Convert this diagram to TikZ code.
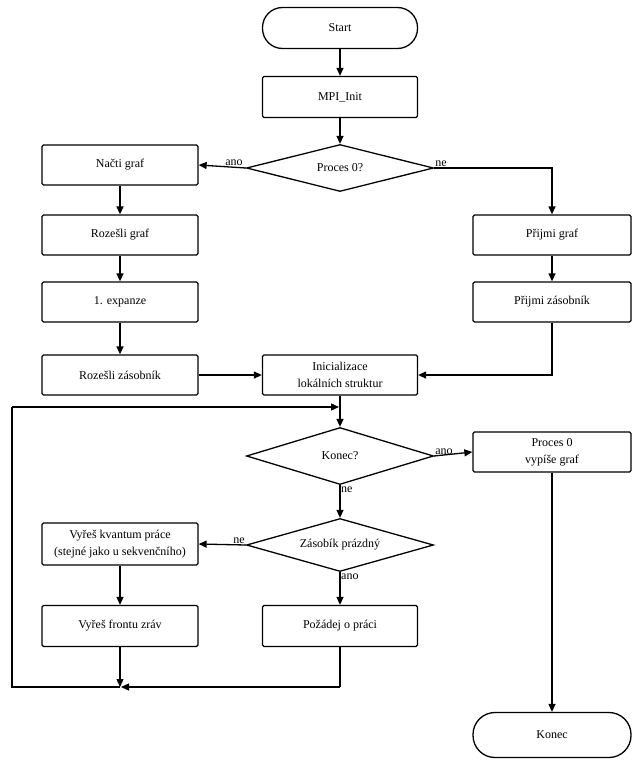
\documentclass[tikz,border=0pt]{standalone}
\usepackage{fontspec}
\setmainfont{Liberation Serif}
\usetikzlibrary{arrows.meta,shapes.geometric,positioning,calc}
\begin{document}
\begin{tikzpicture}[x=1pt,y=-1pt,
  every node/.style={font=\fontsize{12}{17}\selectfont},
  box/.style={draw,line width=1.3pt,rounded corners=1.5pt,align=center,inner sep=0pt},
  term/.style={draw,line width=1.3pt,rounded corners=20pt,align=center,inner sep=0pt},
  dia/.style={draw,line width=1.3pt,diamond,aspect=4,inner sep=0pt,align=center},
  conn/.style={line width=1.3pt,-{Triangle[length=8pt,width=7pt]}},
  line/.style={line width=1.3pt},
  lbl/.style={font=\fontsize{12}{14}\selectfont,inner sep=1pt}]
\useasboundingbox (0,0) rectangle (639,765);
% nodes
\node[term,minimum width=155pt,minimum height=41pt] (start) at (340,28) {Start};
\node[box,minimum width=155pt,minimum height=41pt] (init) at (340,97) {MPI\_Init};
\node[dia,minimum width=187pt,minimum height=47pt] (p0) at (340,168) {Proces 0?};
\node[box,minimum width=156pt,minimum height=40pt] (nacti) at (120,165) {Načti graf};
\node[box,minimum width=156pt,minimum height=40pt] (rg) at (120,235) {Rozešli graf};
\node[box,minimum width=156pt,minimum height=40pt] (exp) at (120,302) {1. expanze};
\node[box,minimum width=156pt,minimum height=40pt] (rz) at (120,375) {Rozešli zásobník};
\node[box,minimum width=158pt,minimum height=40pt] (pg) at (552,235) {Přijmi graf};
\node[box,minimum width=158pt,minimum height=40pt] (pz) at (552,302) {Přijmi zásobník};
\node[box,minimum width=155pt,minimum height=40pt] (ini) at (340,375) {Inicializace\\lokálních struktur};
\node[dia,minimum width=187pt,minimum height=57pt] (kq) at (340,456) {Konec?};
\node[box,minimum width=158pt,minimum height=40pt] (vyp) at (552,452) {Proces 0\\vypíše graf};
\node[dia,minimum width=187pt,minimum height=53pt] (zas) at (340,545) {Zásobík prázdný};
\node[box,minimum width=156pt,minimum height=42pt] (kv) at (120,544) {Vyřeš kvantum práce\\(stejné jako u sekvenčního)};
\node[box,minimum width=156pt,minimum height=41pt] (fr) at (120,626) {Vyřeš frontu zráv};
\node[box,minimum width=155pt,minimum height=41pt] (poz) at (340,626) {Požádej o práci};
\node[term,minimum width=158pt,minimum height=45pt,rounded corners=22pt] (konec) at (552,735) {Konec};
\coordinate (jb) at (120,687);
\coordinate (jt) at (340,407);
\coordinate (lb) at (12,687);
\coordinate (lt) at (12,407);
\coordinate (pb) at (340,687);
% connectors
\draw[conn] (start) -- (init);
\draw[conn] (init) -- (p0);
\draw[conn] (p0.west) -- (nacti.east) node[lbl,pos=0.25,above] {ano};
\draw[conn] (p0.east) -| (pg.north);
\node[lbl,above right] at (p0.east) {ne};
\draw[conn] (nacti) -- (rg);
\draw[conn] (rg) -- (exp);
\draw[conn] (exp) -- (rz);
\draw[conn] (rz) -- (ini);
\draw[conn] (pg) -- (pz);
\draw[conn] (pz.south) |- (ini.east);
\draw[conn] (ini) -- (kq);
\draw[conn] (kq.east) -- (vyp.west);
\node[lbl,above right] at (kq.east) {ano};
\draw[conn] (kq.south) -- (zas.north);
\node[lbl,below right] at (kq.south) {ne};
\draw[conn] (zas.west) -- (kv.east);
\node[lbl,above left] at (zas.west) {ne};
\draw[conn] (zas.south) -- (poz.north);
\node[lbl,below right] at (zas.south) {ano};
\draw[conn] (kv) -- (fr);
\draw[conn] (vyp) -- (konec);
\draw[conn] (fr.south) -- (jb);
\draw[line] (poz.south) -- (pb);
\draw[conn] (pb) -- ($(jb)+(1,0)$);
\draw[line] (jb) -- (lb) -- (lt);
\draw[conn] (lt) -- ($(jt)+(-1,0)$);
\end{tikzpicture}
\end{document}
